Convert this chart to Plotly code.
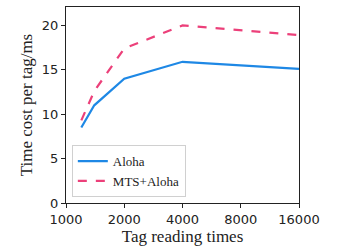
import plotly.graph_objects as go

x_vals = [1200, 1400, 2000, 4000, 16000]
aloha = [8.5, 11.0, 14.0, 15.9, 15.1]
mts_aloha = [9.3, 12.6, 17.4, 20.0, 18.9]
x_ticks = [1000, 2000, 4000, 8000, 16000]
y_ticks = [0, 5, 10, 15, 20]

fig = go.Figure()
fig.add_trace(go.Scatter(x=x_vals, y=aloha, mode="lines", name="Aloha",
                         line=dict(color="#1e88e5", width=2.2)))
fig.add_trace(go.Scatter(x=x_vals, y=mts_aloha, mode="lines", name="MTS+Aloha",
                         line=dict(color="#ec407a", width=2.2, dash="dash")))

tick_font = dict(family="DejaVu Sans", size=13, color="#222")
title_font = dict(family="Liberation Serif", size=17, color="#222")

fig.update_layout(
    width=342, height=248,
    margin=dict(l=66, r=43, t=7, b=45),
    paper_bgcolor="white", plot_bgcolor="white",
    showlegend=True,
    legend=dict(x=0.025, y=0.03, xanchor="left", yanchor="bottom",
                bgcolor="rgba(255,255,255,0.8)", bordercolor="#d0d0d0", borderwidth=1,
                font=dict(family="Liberation Serif", size=13, color="#222"),
                tracegroupgap=0, itemwidth=30),
    xaxis=dict(type="log", range=[3, 4.20412], tickvals=x_ticks,
               ticktext=[str(v) for v in x_ticks],
               ticks="outside", ticklen=4, tickcolor="#222",
               showline=True, linecolor="#222", linewidth=1, mirror=True,
               showgrid=False, zeroline=False, tickfont=tick_font,
               title=dict(text="Tag reading times", font=title_font, standoff=2)),
    yaxis=dict(range=[0, 22.07], tickvals=y_ticks,
               ticks="outside", ticklen=4, tickcolor="#222",
               showline=True, linecolor="#222", linewidth=1, mirror=True,
               showgrid=False, zeroline=False, tickfont=tick_font,
               title=dict(text="Time cost per tag/ms", font=title_font, standoff=4)),
)

fig.write_html("out.html", config={"displayModeBar": False},
               post_script="document.body.style.margin='0';document.body.style.padding='0';")
